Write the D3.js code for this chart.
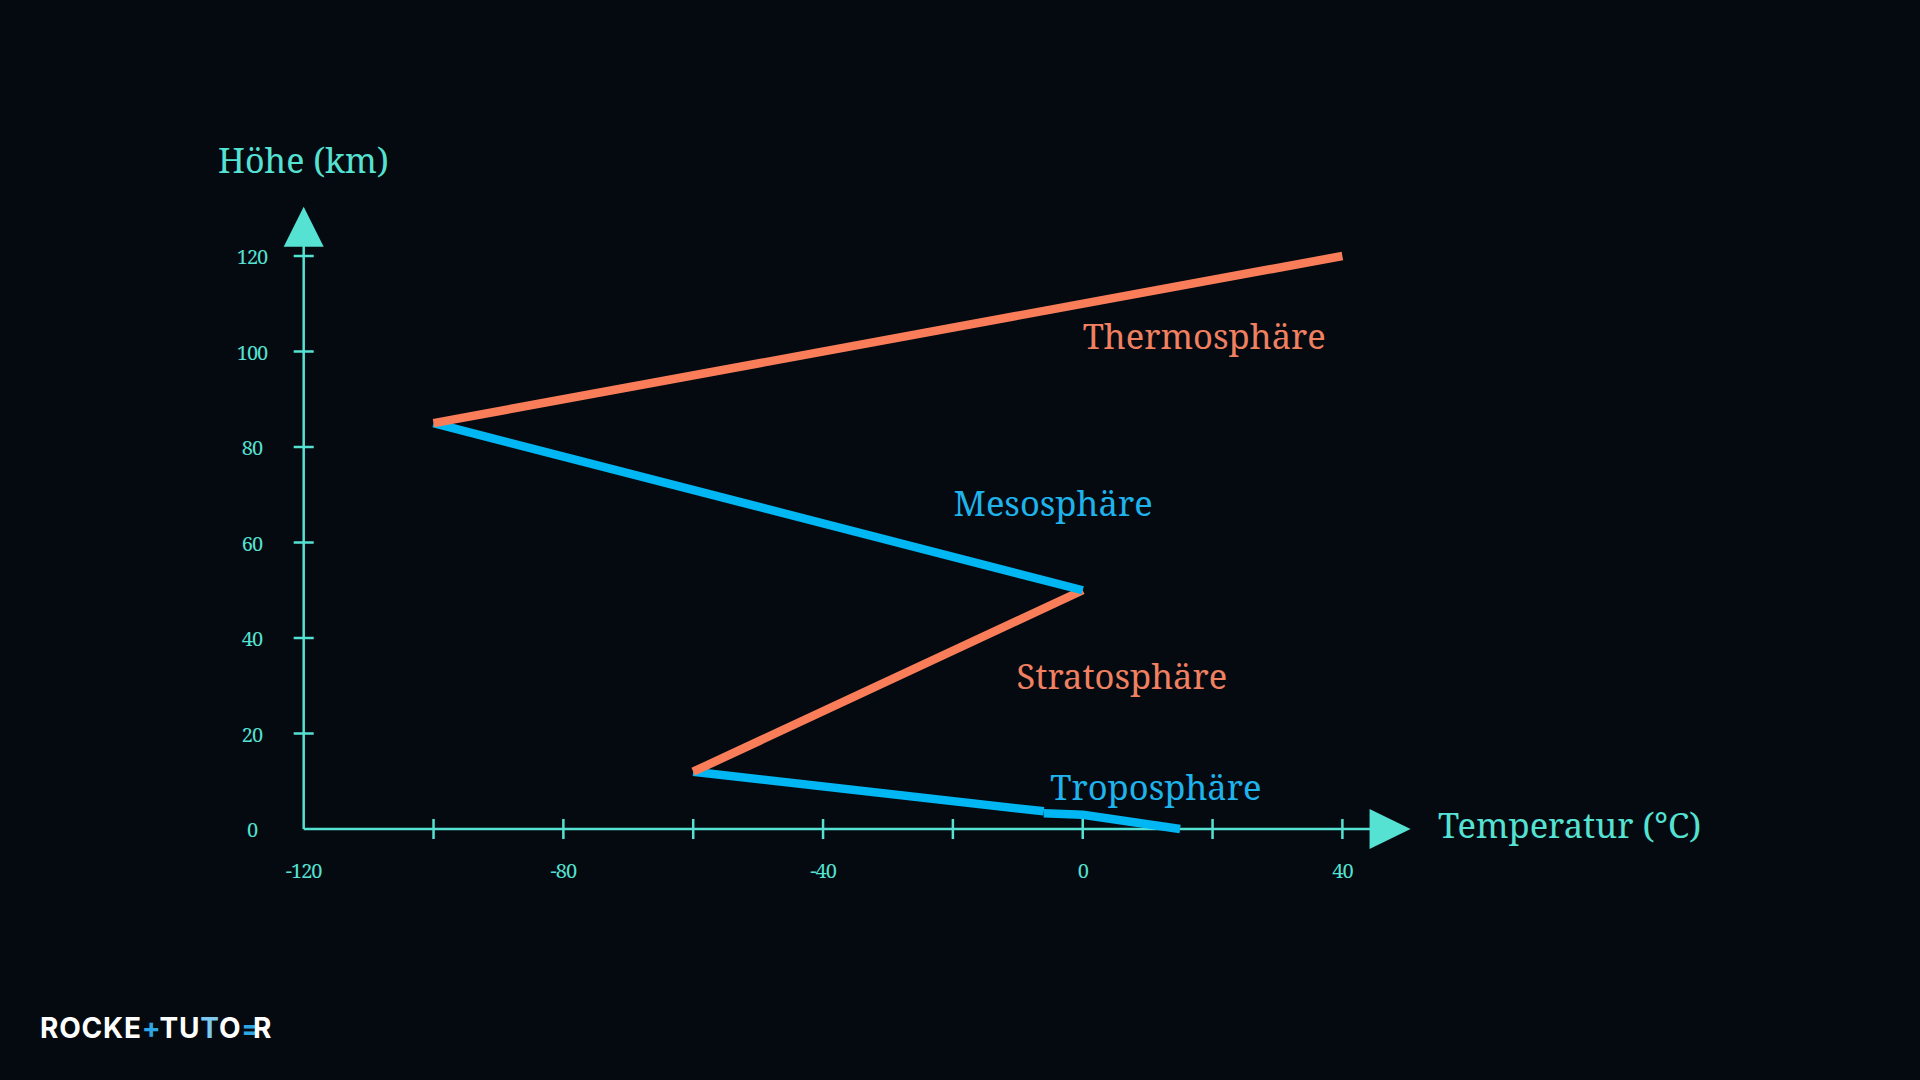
<!DOCTYPE html>
<head>
    <meta charset="utf-8">
    <style>
        body { margin: 0; background: #040a10; }
        .serif { font-family: "Noto Serif", "DejaVu Serif", "Liberation Serif", serif; }
    </style>
    <script src="https://d3js.org/d3.v7.min.js"></script>
</head>
<body>
<div id="chart"></div>
<script>

    // temperature (°C) / height (km) pairs per layer, drawn bottom to top
    var tropo1 = [[-60, 12], [-6, 3.7]];
    var tropo2 = [[-6, 3.3], [0, 3], [15, 0]];
    var strato = [[-60, 12], [0, 50]];
    var meso = [[-100, 85], [0, 50]];
    var thermo = [[-100, 85], [40, 120]];

    var layerNames = ["Troposphäre", "Stratosphäre", "Mesosphäre", "Thermosphäre"];
    var layerPos = [[-5, 6.1], [-10.2, 29.3], [-19.9, 65.5], [0, 100.5]]; // where the label starts

    var xTicks = [-100, -80, -60, -40, -20, 0, 20, 40];
    var xLabels = [-120, -80, -40, 0, 40];
    var yTicks = [20, 40, 60, 80, 100, 120];
    var yLabels = [0, 20, 40, 60, 80, 100, 120];

    var W = 1920, H = 1080;
    var teal = "#55e2d3", orange = "#fa7d5a", blue = "#00b6f3";

    var svg = d3.select("#chart").append("svg")
        .attr("width", W)
        .attr("height", H);

    svg.append("rect").attr("width", W).attr("height", H).attr("fill", "#040a10");

    var x = d3.scaleLinear().domain([-120, 40]).range([303.7, 1342.4]);
    var y = d3.scaleLinear().domain([0, 120]).range([829, 256]);

    var axes = svg.append("g").attr("class", "serif");

    // axis lines with arrow heads
    axes.append("line")
        .attr("x1", x(-120)).attr("x2", x(50.5) - 38)
        .attr("y1", y(0)).attr("y2", y(0))
        .attr("stroke", teal).attr("stroke-width", 2.5);
    axes.append("line")
        .attr("x1", x(-120)).attr("x2", x(-120))
        .attr("y1", y(0)).attr("y2", y(130.3) + 38)
        .attr("stroke", teal).attr("stroke-width", 2.5);

    axes.append("path")
        .attr("d", "M" + x(50.5) + "," + y(0) + "L" + (x(50.5) - 41) + "," + (y(0) - 20) + "L" + (x(50.5) - 41) + "," + (y(0) + 20) + "Z")
        .attr("fill", teal);
    axes.append("path")
        .attr("d", "M" + x(-120) + "," + y(130.3) + "L" + (x(-120) - 20) + "," + (y(130.3) + 40) + "L" + (x(-120) + 20) + "," + (y(130.3) + 40) + "Z")
        .attr("fill", teal);

    // ticks
    axes.selectAll(".xt").data(xTicks).enter().append("line")
        .attr("x1", d => x(d)).attr("x2", d => x(d))
        .attr("y1", y(0) - 10).attr("y2", y(0) + 10)
        .attr("stroke", teal).attr("stroke-width", 2.5);
    axes.selectAll(".yt").data(yTicks).enter().append("line")
        .attr("y1", d => y(d)).attr("y2", d => y(d))
        .attr("x1", x(-120) - 10).attr("x2", x(-120) + 10)
        .attr("stroke", teal).attr("stroke-width", 2.5);

    axes.selectAll(".xl").data(xLabels).enter().append("text")
        .attr("x", d => x(d))
        .attr("y", 878)
        .attr("text-anchor", "middle")
        .attr("fill", teal)
        .attr("font-size", 20)
        .attr("letter-spacing", -1)
        .text(d => d);
    axes.selectAll(".yl").data(yLabels).enter().append("text")
        .attr("x", 252)
        .attr("y", d => y(d) + 8)
        .attr("text-anchor", "middle")
        .attr("fill", teal)
        .attr("font-size", 20)
        .attr("letter-spacing", -1)
        .text(d => d);

    axes.append("text")
        .attr("x", 218).attr("y", 173)
        .attr("fill", teal).attr("font-size", 34)
        .text("Höhe (km)");
    axes.append("text")
        .attr("x", 1438).attr("y", 838)
        .attr("fill", teal).attr("font-size", 34.5)
        .text("Temperatur (°C)");

    // profile
    var line = d3.line().x(d => x(d[0])).y(d => y(d[1]));
    var segs = [[tropo1, blue], [tropo2, blue], [strato, orange], [meso, blue], [thermo, orange]];
    svg.append("g").selectAll("path").data(segs).enter().append("path")
        .attr("d", d => line(d[0]))
        .attr("fill", "none")
        .attr("stroke", d => d[1])
        .attr("stroke-width", 8.5)
        .attr("stroke-linecap", "butt")
        .attr("stroke-linejoin", "round");

    // layer labels
    var labelCols = ["#1fb3ec", "#f08060", "#1fb3ec", "#f08060"];
    svg.append("g").attr("class", "serif").selectAll("text").data(layerNames).enter().append("text")
        .attr("x", (d, i) => x(layerPos[i][0]))
        .attr("y", (d, i) => y(layerPos[i][1]))
        .attr("fill", (d, i) => labelCols[i])
        .attr("font-size", 34.5)
        .text(d => d);

    // logo
    var logo = svg.append("text")
        .attr("x", 40).attr("y", 1038)
        .attr("font-family", "Inter, Roboto, sans-serif")
        .attr("font-weight", 700)
        .attr("font-size", 28)
        .attr("letter-spacing", 0.8);
    logo.append("tspan").attr("fill", "#ffffff").text("ROCKE");
    logo.append("tspan").attr("fill", "#2fa6e4").text("+");
    logo.append("tspan").attr("fill", "#ffffff").text("TU");
    logo.append("tspan").attr("fill", "#7cc8ee").text("T");
    logo.append("tspan").attr("fill", "#ffffff").text("O");
    logo.append("tspan").attr("fill", "#2fa6e4").text("=");
    logo.append("tspan").attr("fill", "#ffffff").attr("dx", -8).text("R");

</script>
</body>
